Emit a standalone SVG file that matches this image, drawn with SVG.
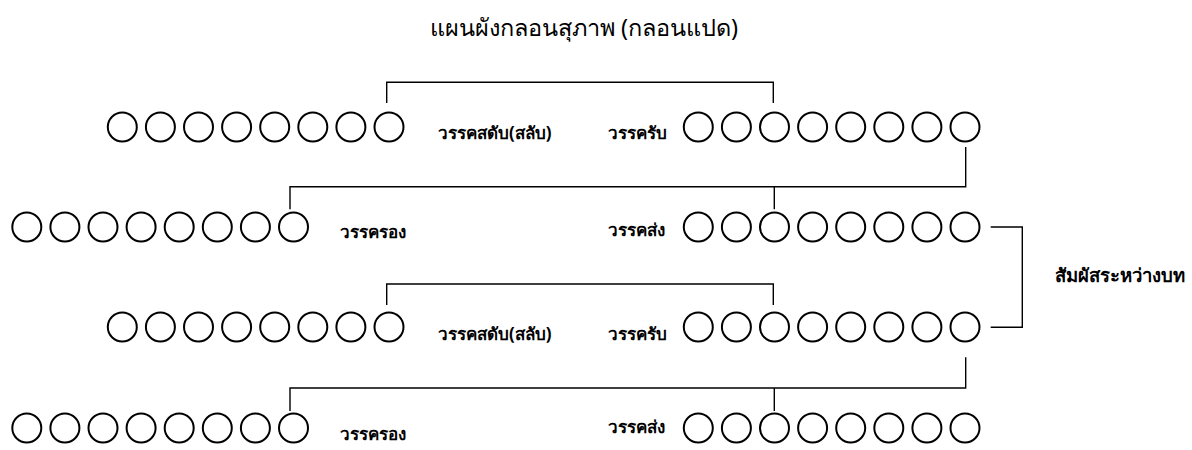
<svg xmlns="http://www.w3.org/2000/svg" width="1192" height="450" viewBox="0 0 1192 450">
<defs>
<style>
.c{fill:none;stroke:#000;stroke-width:2}
.l{fill:none;stroke:#000;stroke-width:1.4}
.t{font-family:"Noto Sans","DejaVu Sans",sans-serif;font-size:17px;font-weight:bold;fill:#000}
.h{font-family:"Noto Sans","DejaVu Sans",sans-serif;font-size:23.5px;fill:#000}
</style>
<g id="r8"><circle class="c" cx="0" cy="0" r="14.5"/><circle class="c" cx="38.1" cy="0" r="14.5"/><circle class="c" cx="76.2" cy="0" r="14.5"/><circle class="c" cx="114.3" cy="0" r="14.5"/><circle class="c" cx="152.4" cy="0" r="14.5"/><circle class="c" cx="190.5" cy="0" r="14.5"/><circle class="c" cx="228.6" cy="0" r="14.5"/><circle class="c" cx="266.7" cy="0" r="14.5"/></g>
</defs>
<rect width="1192" height="450" fill="#fff"/>
<text class="h" x="584" y="36" text-anchor="middle">แผนผังกลอนสุภาพ (กลอนแปด)</text>
<g id="row1-left"><use href="#r8" x="122.3" y="127"/></g>
<g id="row1-right"><use href="#r8" x="698.3" y="127"/></g>
<g id="row2-left"><use href="#r8" x="26.8" y="227"/></g>
<g id="row2-right"><use href="#r8" x="698.3" y="227"/></g>
<g id="row3-left"><use href="#r8" x="122.3" y="327"/></g>
<g id="row3-right"><use href="#r8" x="698.3" y="327"/></g>
<g id="row4-left"><use href="#r8" x="26.8" y="428"/></g>
<g id="row4-right"><use href="#r8" x="698.3" y="428"/></g>
<g id="labels">
<text class="t" x="438" y="139">วรรคสดับ(สลับ)</text>
<text class="t" x="608" y="139">วรรครับ</text>
<text class="t" x="340" y="238">วรรครอง</text>
<text class="t" x="608" y="236">วรรคส่ง</text>
<text class="t" x="438" y="340">วรรคสดับ(สลับ)</text>
<text class="t" x="608" y="340">วรรครับ</text>
<text class="t" x="340" y="440">วรรครอง</text>
<text class="t" x="608" y="433">วรรคส่ง</text>
<text class="t" x="1055" y="282" style="font-size:18.5px">สัมผัสระหว่างบท</text>
</g>
<g id="connectors">
<polyline class="l" points="386.7,103 386.7,82.3 773.3,82.3 773.3,103"/>
<polyline class="l" points="965.7,147 965.7,186.7 290,186.7 290,209.3"/>
<line class="l" x1="774.3" y1="186.7" x2="774.3" y2="209.3"/>
<polyline class="l" points="990.7,227 1022.3,227 1022.3,327.3 990.7,327.3"/>
<polyline class="l" points="386.7,305 386.7,284 773.3,284 773.3,305"/>
<polyline class="l" points="965.7,357.3 965.7,388 290,388 290,411"/>
<line class="l" x1="774.3" y1="388" x2="774.3" y2="411"/>
</g>
</svg>
